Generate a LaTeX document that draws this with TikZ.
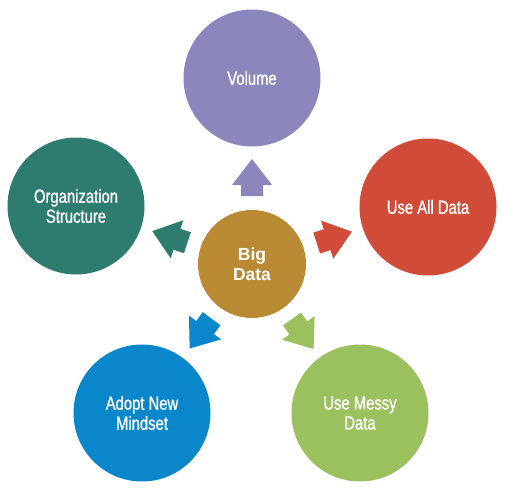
\documentclass[tikz,border=0pt]{standalone}
\usepackage{fontspec}
\setmainfont{Liberation Sans}
\newfontfamily\condfont[FakeStretch=0.78,FakeBold=1]{Liberation Sans}
\usetikzlibrary{calc}
\definecolor{cvol}{HTML}{8B86BC}
\definecolor{cred}{HTML}{D04B38}
\definecolor{cteal}{HTML}{2E7B70}
\definecolor{cblue}{HTML}{0A86CB}
\definecolor{cgreen}{HTML}{9BC05E}
\definecolor{cgold}{HTML}{B98A33}
\newcommand\blockarrow[3]{%
  \fill[#3]
    ($(#1)!68pt!(#2)!11pt!90:(#2)$) --
    ($(#1)!79pt!(#2)!11pt!90:(#2)$) --
    ($(#1)!79pt!(#2)!20pt!90:(#2)$) --
    ($(#1)!105pt!(#2)$) --
    ($(#1)!79pt!(#2)!20pt!-90:(#2)$) --
    ($(#1)!79pt!(#2)!11pt!-90:(#2)$) --
    ($(#1)!68pt!(#2)!11pt!-90:(#2)$) -- cycle;}
\tikzset{
  outer/.style={circle, minimum size=137pt, inner sep=0pt, text=white, align=center,
    font=\condfont\fontsize{19}{20}\selectfont},
  hub/.style={circle, minimum size=108pt, inner sep=0pt, text=white, align=center,
    font=\bfseries\fontsize{17.5}{19.5}\selectfont}
}
\begin{document}
\begin{tikzpicture}[x=1pt,y=-1pt]
\useasboundingbox (0,0) rectangle (511,492);
\node[hub, fill=cgold] (c) at (252,264) {Big\\Data};
\node[outer, fill=cvol] (vol) at (252,78) {Volume};
\node[outer, fill=cred] (all) at (428,207) {Use All Data};
\node[outer, fill=cteal] (org) at (76,206) {Organization\\Structure};
\node[outer, fill=cblue] (adopt) at (142,413) {Adopt New\\Mindset};
\node[outer, fill=cgreen] (messy) at (360,413) {Use Messy\\Data};
\blockarrow{c}{vol}{cvol}
\blockarrow{c}{all}{cred}
\blockarrow{c}{org}{cteal}
\blockarrow{c}{adopt}{cblue}
\blockarrow{c}{messy}{cgreen}
\end{tikzpicture}
\end{document}
